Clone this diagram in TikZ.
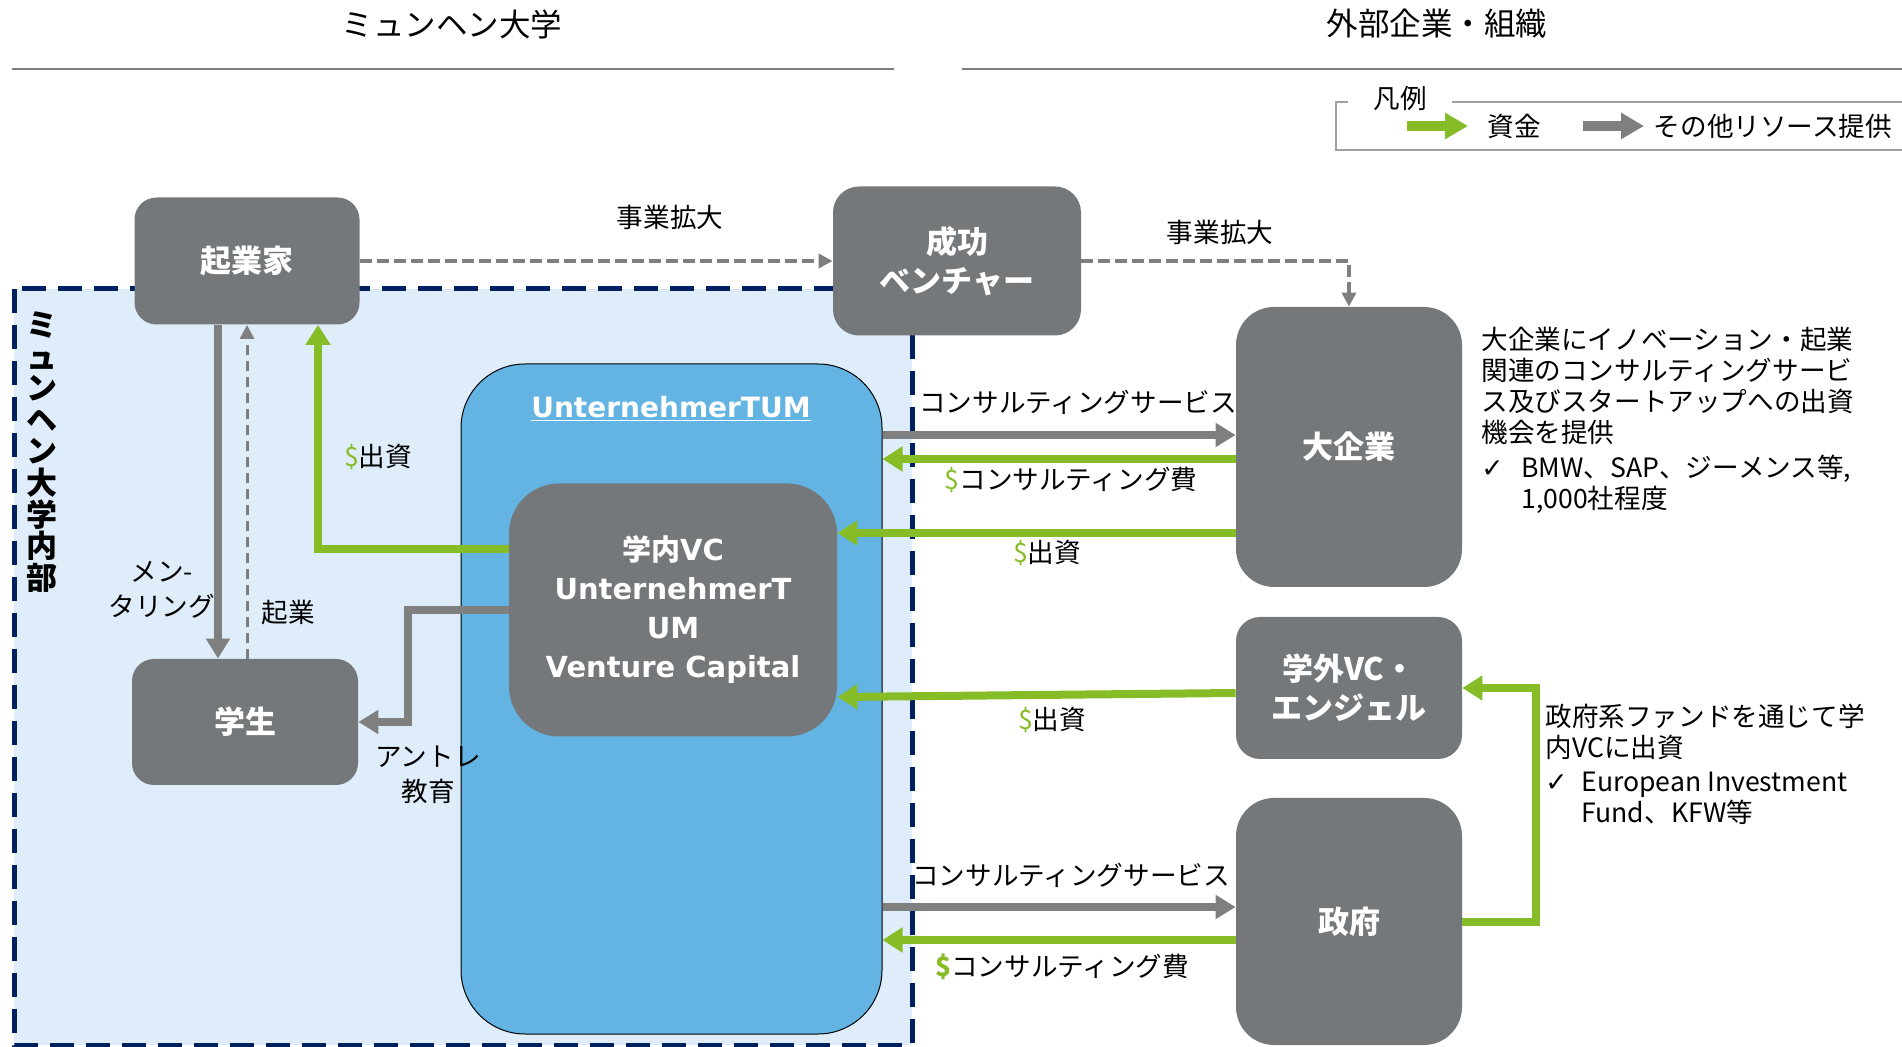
\documentclass[tikz,border=0pt]{standalone}
\usepackage{fontspec}
\setmainfont{Noto Sans CJK JP}
\newfontfamily\jpfont{Noto Sans CJK JP}
\newfontfamily\latinfont{DejaVu Sans}
\usetikzlibrary{arrows.meta}

\definecolor{boxgray}{RGB}{117,120,123}
\definecolor{arrowgray}{RGB}{127,127,127}
\definecolor{legendgray}{RGB}{160,160,160}
\definecolor{fundgreen}{RGB}{134,188,37}
\definecolor{regionblue}{RGB}{222,237,249}
\definecolor{tumblue}{RGB}{99,179,227}
\definecolor{navy}{RGB}{0,32,96}

\tikzset{
  box/.style={fill=boxgray, text=white, align=center, inner sep=0pt,
    font=\fontsize{15.5}{19.5}\selectfont\bfseries},
  lbl/.style={inner sep=0pt, font=\fontsize{13.3}{17.5}\selectfont},
  note/.style={inner sep=0pt, align=left, anchor=north west,
    font=\fontsize{13.3}{15.5}\selectfont},
  graya/.style={draw=arrowgray, line width=4pt, -{Triangle[length=10pt,width=11.5pt]}},
  greena/.style={draw=fundgreen, line width=4pt, -{Triangle[length=10pt,width=12pt]}},
  dasha/.style={draw=arrowgray, line width=2pt, dash pattern=on 6pt off 2.5pt,
    -{Triangle[length=7pt,width=7pt]}},
  thindash/.style={draw=arrowgray, line width=1.5pt, dash pattern=on 5pt off 3pt,
    -{Triangle[length=7pt,width=7pt]}},
}
\newcommand{\usd}{\textcolor{fundgreen}{\$}}

\begin{document}
\begin{tikzpicture}[x=0.5pt,y=-0.5pt]
    % Fix the picture size
    \useasboundingbox (0,0) rectangle (1902,1047);

    % Draw the two headers
    \node[font=\fontsize{15.75}{18}\selectfont] (left head) at (452,24) {ミュンヘン大学};
    \node[font=\fontsize{15.75}{18}\selectfont] (right head) at (1437,24) {外部企業・組織};
    \draw[arrowgray, line width=1.25pt] (12,69) -- (894,69);
    \draw[arrowgray, line width=1.25pt] (962,69) -- (1902,69);

    % Draw the legend
    \draw[legendgray, line width=1pt] (1902,102) -- (1336,102) -- (1336,150) -- (1902,150);
    \node[lbl, fill=white, inner xsep=12.5pt, inner ysep=2pt] (legend title) at (1400,98) {凡例};
    \coordinate (money start) at (1407,126);
    \coordinate (money end) at (1468,126);
    \coordinate (other start) at (1583,126);
    \coordinate (other end) at (1644,126);
    \draw[greena, line width=5pt, -{Triangle[length=11.5pt,width=12.5pt]}] (money start) -- (money end);
    \draw[graya, line width=5pt, -{Triangle[length=11.5pt,width=12.5pt]}] (other start) -- (other end);
    \node[lbl] (money text) at (1514,126) {資金};
    \node[lbl] (other text) at (1773,126) {その他リソース提供};

    % Draw the university region
    \fill[regionblue] (14,289) rectangle (912,1045);
    \draw[navy, line width=2.5pt, dash pattern=on 12pt off 6pt] (14,289) rectangle (912,1045);
    \node[align=center, inner sep=0pt, font=\fontsize{15.5}{15.8}\selectfont\bfseries]
        (region label) at (42,452) {ミ\\ュ\\ン\\ヘ\\ン\\大\\学\\内\\部};

    % Draw the UnternehmerTUM container
    \node[draw=black, line width=0.5pt, fill=tumblue, rounded corners=32pt,
        minimum width=210.5pt, minimum height=335pt] (tum) at (671.5,699) {};
    \node[text=white, font=\latinfont\fontsize{14}{16}\selectfont\bfseries]
        (tum title) at (671,409) {\underline{UnternehmerTUM}};

    % Draw the boxes
    \node[box, minimum width=112.5pt, minimum height=63.5pt, rounded corners=11pt] (founder) at (247,261) {起業家};
    \node[box, minimum width=124pt, minimum height=74.5pt, rounded corners=13pt] (venture) at (957,261) {成功\\ベンチャー};
    \node[box, minimum width=113pt, minimum height=63pt, rounded corners=11pt] (student) at (245,722) {学生};
    \node[box, minimum width=164pt, minimum height=126.5pt, rounded corners=25pt,
        font=\latinfont\fontsize{14.5}{19.5}\selectfont\bfseries]
        (campus vc) at (673,610) {{\jpfont 学内}VC\\UnternehmerT\\UM\\Venture Capital};
    \node[box, minimum width=113pt, minimum height=140pt, rounded corners=19pt] (corp) at (1349,447) {大企業};
    \node[box, minimum width=113pt, minimum height=71pt, rounded corners=12pt] (outside vc) at (1349,688) {学外VC・\\エンジェル};
    \node[box, minimum width=113pt, minimum height=123.5pt, rounded corners=19pt] (gov) at (1349,921.5) {政府};

    % Draw the growth arrows
    \draw[dasha] (founder.east) -- (venture.west);
    \draw[dasha] (venture.east) -| (corp.north);
    \node[lbl] (growth a) at (670,217) {事業拡大};
    \node[lbl] (growth b) at (1220,232) {事業拡大};

    % Draw the arrows between founder and student
    \draw[graya] ([xshift=-14.5pt]founder.south) -- ([xshift=-14.5pt]founder.south |- student.north);
    \draw[thindash] (student.north -| founder.south) -- (founder.south);
    \node[lbl, align=center] (mentor text) at (162,590) {メン-\\タリング};
    \node[lbl] (startup text) at (288,612) {起業};

    % Draw the arrows from the campus VC
    \draw[greena] ([yshift=30.5pt]campus vc.west) -| ([xshift=35.5pt]founder.south);
    \node[lbl] (fund a) at (378,457) {\usd 出資};
    \draw[graya] (campus vc.west) -| ([xshift=25pt]student.east) -- (student.east);
    \node[lbl, align=center] (edu text) at (428,775) {アントレ\\教育};

    % Draw the arrows to and from the large companies
    \draw[graya] (tum.east |- 0,435) -- (corp.west |- 0,435);
    \draw[greena] (corp.west |- 0,459) -- (tum.east |- 0,459);
    \draw[greena] (corp.west |- 0,533) -- (campus vc.east |- 0,533);
    \node[lbl] (service a) at (1078,402) {コンサルティングサービス};
    \node[lbl] (fee a) at (1071,480) {\usd コンサルティング費};
    \node[lbl] (fund b) at (1047,553) {\usd 出資};

    % Draw the arrow from the outside VCs
    \draw[greena] (outside vc.west |- 0,693) -- (campus vc.east |- 0,697);
    \node[lbl] (fund c) at (1052,720) {\usd 出資};

    % Draw the arrows to and from the government
    \draw[graya] (tum.east |- 0,907) -- (gov.west |- 0,907);
    \draw[greena] (gov.west |- 0,940) -- (tum.east |- 0,940);
    \draw[greena] (gov.east) -| ([xshift=37pt]outside vc.east) -- (outside vc.east);
    \node[lbl] (service b) at (1071,875) {コンサルティングサービス};
    \node[lbl] (fee b) at (1062,967) {\textcolor{fundgreen}{\bfseries\$}コンサルティング費};

    % Write the notes
    \node[note] (corp note) at (1481,327) {大企業にイノベーション・起業\\関連のコンサルティングサービ\\ス及びスタートアップへの出資\\機会を提供\\[2pt]
        \makebox[20pt][l]{\latinfont ✓}BMW、SAP、ジーメンス等,\\\hspace*{20pt}1,000社程度};
    \node[note] (gov note) at (1545,704) {政府系ファンドを通じて学\\内VCに出資\\[1.5pt]
        \makebox[18pt][l]{\latinfont ✓}European Investment\\\hspace*{18pt}Fund、KFW等};

\end{tikzpicture}
\end{document}
